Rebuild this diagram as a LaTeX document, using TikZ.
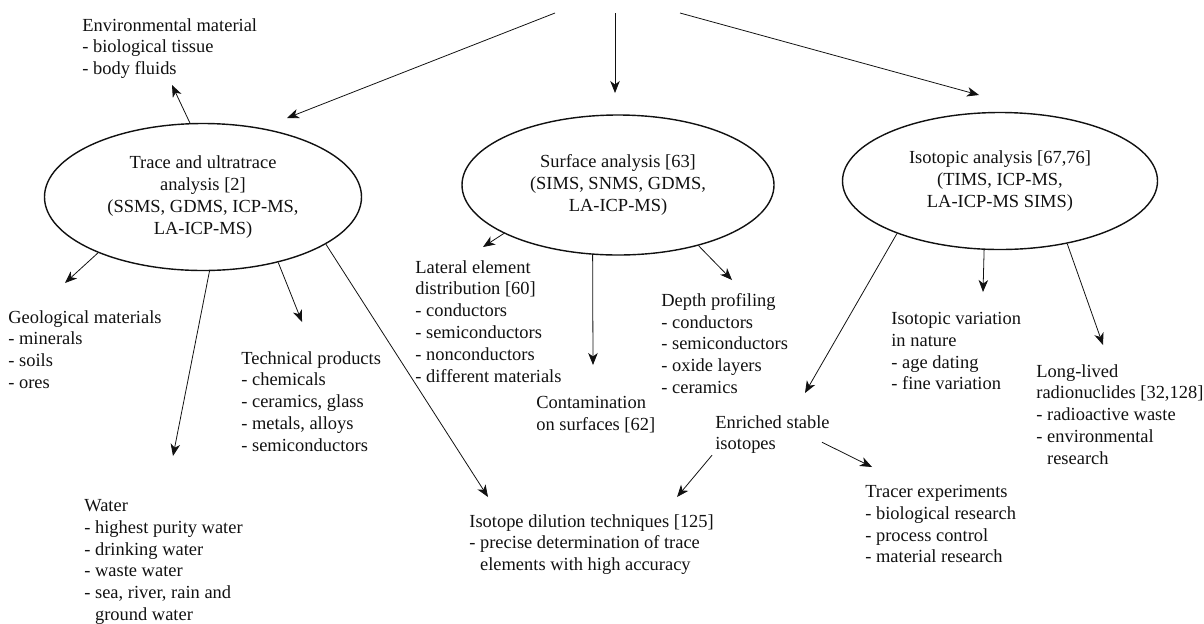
\documentclass[tikz,border=0pt]{standalone}
\usepackage{fontspec}
\setmainfont{Liberation Serif}
\usetikzlibrary{arrows.meta,shapes.geometric}
\definecolor{chartink}{HTML}{111111}
\tikzset{
  chartext/.style={font=\fontsize{10.5}{12.4}\selectfont, text=chartink,
    align=left, anchor=north west, inner sep=0pt},
  methodellipse/.style={ellipse, draw=chartink, line width=.8pt,
    font=\fontsize{10.5}{12.4}\selectfont, text=chartink, align=center,
    inner sep=0pt},
  chartflow/.style={-{Stealth[length=2.4mm,width=1.9mm,inset=.7mm]},
    draw=chartink, line width=.45pt}
}

\begin{document}
\begin{tikzpicture}[x=1cm,y=1cm]
  \useasboundingbox (0,0) rectangle (24.08,-12.46);

  % the three methods
  \node[methodellipse, minimum width=6.34cm, minimum height=2.94cm] (trace)
    at (4.06,-3.94) {Trace and ultratrace\\analysis [2]\\(SSMS, GDMS, ICP-MS,\\LA-ICP-MS)};
  \node[methodellipse, minimum width=6.24cm, minimum height=2.80cm] (surface)
    at (12.36,-3.70) {Surface analysis [63]\\(SIMS, SNMS, GDMS,\\LA-ICP-MS)};
  \node[methodellipse, minimum width=6.30cm, minimum height=2.74cm] (isotopic)
    at (20.00,-3.62) {Isotopic analysis [67,76]\\(TIMS, ICP-MS,\\LA-ICP-MS SIMS)};

  % applications
  \node[chartext] (env) at (1.64,-0.36)
    {Environmental material\\- biological tissue\\- body fluids};
  \node[chartext] (geo) at (0.16,-6.20)
    {Geological materials\\- minerals\\- soils\\- ores};
  \node[chartext] (water) at (1.68,-9.98)
    {Water\\- highest purity water\\- drinking water\\- waste water\\- sea, river, rain and\\\phantom{- }ground water};
  \node[chartext] (tech) at (4.82,-7.02)
    {Technical products\\- chemicals\\- ceramics, glass\\- metals, alloys\\- semiconductors};
  \node[chartext] (lateral) at (8.30,-5.20)
    {Lateral element\\distribution [60]\\- conductors\\- semiconductors\\- nonconductors\\- different materials};
  \node[chartext] (contam) at (10.72,-7.92)
    {Contamination\\on surfaces [62]};
  \node[chartext] (depth) at (13.22,-5.86)
    {Depth profiling\\- conductors\\- semiconductors\\- oxide layers\\- ceramics};
  \node[chartext] (dilution) at (9.38,-10.28)
    {Isotope dilution techniques [125]\\- precise determination of trace\\\phantom{- }elements with high accuracy};
  \node[chartext] (enriched) at (14.30,-8.30)
    {Enriched stable\\isotopes};
  \node[chartext] (tracer) at (17.30,-9.70)
    {Tracer experiments\\- biological research\\- process control\\- material research};
  \node[chartext] (isovar) at (17.82,-6.24)
    {Isotopic variation\\in nature\\- age dating\\- fine variation};
  \node[chartext] (longlived) at (20.72,-7.28)
    {Long-lived\\radionuclides [32,128]\\- radioactive waste\\- environmental\\\phantom{- }research};

  % free ends of the connectors
  \coordinate (srcL) at (11.10,-0.26);
  \coordinate (srcM) at (12.30,-0.26);
  \coordinate (srcR) at (13.60,-0.26);
  \coordinate (tipL) at (5.74,-2.36);
  \coordinate (tipM) at (12.30,-1.86);
  \coordinate (tipR) at (19.58,-1.90);
  \coordinate (envtip) at (3.44,-1.70);
  \coordinate (geotip) at (1.30,-5.66);
  \coordinate (watertip) at (3.46,-9.12);
  \coordinate (techtip) at (6.04,-6.44);
  \coordinate (dilutipA) at (9.76,-9.94);
  \coordinate (lattip) at (9.66,-4.94);
  \coordinate (contip) at (11.86,-7.30);
  \coordinate (depthtip) at (14.64,-5.60);
  \coordinate (enrtip) at (16.10,-7.86);
  \coordinate (isovartip) at (19.66,-5.84);
  \coordinate (longtip) at (22.06,-6.90);
  \coordinate (dilutipB) at (13.54,-9.94);
  \coordinate (tracertip) at (17.44,-9.34);

  \draw[chartflow] (srcL) -- (tipL);
  \draw[chartflow] (srcM) -- (tipM);
  \draw[chartflow] (srcR) -- (tipR);

  \draw[chartflow] (trace.100.7) -- (envtip);
  \draw[chartflow] (trace.208) -- (geotip);
  \draw[chartflow] (trace.275) -- (watertip);
  \draw[chartflow] (trace.319.6) -- (techtip);
  \draw[chartflow] (trace.339) -- (dilutipA);

  \draw[chartflow] (surface.203) -- (lattip);
  \draw[chartflow] (surface.250.3) -- (contip);
  \draw[chartflow] (surface.323.7) -- (depthtip);

  \draw[chartflow] (isotopic.207.9) -- (enrtip);
  \draw[chartflow] (isotopic.257.7) -- (isovartip);
  \draw[chartflow] (isotopic.317.6) -- (longtip);

  \draw[chartflow] ([xshift=-.06cm,yshift=-.02cm]enriched.south west) -- (dilutipB);
  \draw[chartflow] ([xshift=-.16cm,yshift=.24cm]enriched.south east) -- (tracertip);
\end{tikzpicture}
\end{document}
